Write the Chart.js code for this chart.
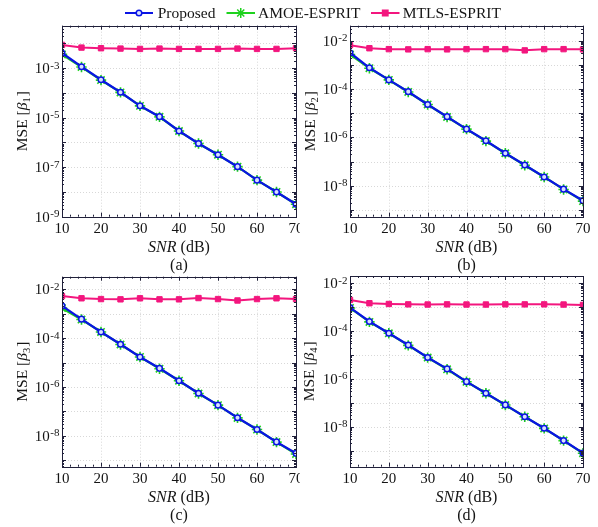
<!DOCTYPE html>
<html lang="en">

<head>
    <meta charset="UTF-8">
    <title>MSE versus SNR</title>
    <script src="https://cdn.jsdelivr.net/npm/chart.js"></script>
    <style>
        body { margin: 0; background: #fff; }
        #wrap { position: relative; width: 598px; height: 527px; }
        #wrap canvas { position: absolute; left: 0; top: 0; }
    </style>
</head>

<body>

<div id="wrap">
    <canvas id="chartA" width="598" height="527"></canvas>
    <canvas id="chartB" width="598" height="527"></canvas>
    <canvas id="chartC" width="598" height="527"></canvas>
    <canvas id="chartD" width="598" height="527"></canvas>
</div>

<script>
    // SNR points (dB) and x tick labels
    const snr = [10, 15, 20, 25, 30, 35, 40, 45, 50, 55, 60, 65, 70];
    const xTicks = [10, 20, 30, 40, 50, 60, 70];

    // (a) beta 1
    const proposedA = [4.1e-3, 1.15e-3, 3.4e-4, 1.07e-4, 3.0e-5, 1.1e-5, 2.9e-6, 9.1e-7, 3.2e-7, 1.05e-7, 3.0e-8, 1.0e-8, 3.2e-9];
    const amoeA = [3.6e-3, 1.12e-3, 3.3e-4, 1.05e-4, 3.0e-5, 1.08e-5, 2.9e-6, 9.0e-7, 3.2e-7, 1.05e-7, 3.0e-8, 1.0e-8, 3.2e-9];
    const mtlsA = [8.7e-3, 6.8e-3, 6.4e-3, 6.2e-3, 6.0e-3, 6.2e-3, 6.0e-3, 6.0e-3, 6.0e-3, 6.2e-3, 6.0e-3, 6.0e-3, 6.4e-3];

    // (b) beta 2
    const proposedB = [3.2e-3, 7.6e-4, 2.4e-4, 7.8e-5, 2.3e-5, 7.2e-6, 2.2e-6, 7.2e-7, 2.2e-7, 7.2e-8, 2.3e-8, 7.2e-9, 2.4e-9];
    const amoeB = [2.7e-3, 7.3e-4, 2.4e-4, 7.6e-5, 2.3e-5, 7.0e-6, 2.2e-6, 7.0e-7, 2.2e-7, 7.0e-8, 2.3e-8, 7.0e-9, 2.3e-9];
    const mtlsB = [6.6e-3, 4.9e-3, 4.5e-3, 4.4e-3, 4.5e-3, 4.4e-3, 4.5e-3, 4.5e-3, 4.5e-3, 4.0e-3, 4.5e-3, 4.5e-3, 4.4e-3];

    // (c) beta 3
    const proposedC = [2.1e-3, 6.0e-4, 1.8e-4, 5.6e-5, 1.7e-5, 5.8e-6, 1.8e-6, 5.5e-7, 1.8e-7, 5.5e-8, 1.8e-8, 5.6e-9, 1.9e-9];
    const amoeC = [1.7e-3, 5.8e-4, 1.8e-4, 5.5e-5, 1.7e-5, 5.6e-6, 1.8e-6, 5.4e-7, 1.8e-7, 5.4e-8, 1.8e-8, 5.5e-9, 1.8e-9];
    const mtlsC = [5.3e-3, 4.3e-3, 4.0e-3, 3.9e-3, 4.3e-3, 3.9e-3, 3.9e-3, 4.4e-3, 4.0e-3, 3.5e-3, 4.0e-3, 4.3e-3, 4.0e-3];

    // (d) beta 4
    const proposedD = [9.5e-4, 2.5e-4, 8.1e-5, 2.6e-5, 7.8e-6, 2.6e-6, 7.6e-7, 2.5e-7, 8.1e-8, 2.6e-8, 8.5e-9, 2.6e-9, 7.8e-10];
    const amoeD = [9.2e-4, 2.4e-4, 8.0e-5, 2.5e-5, 7.7e-6, 2.5e-6, 7.5e-7, 2.5e-7, 8.0e-8, 2.6e-8, 8.4e-9, 2.6e-9, 7.7e-10];
    const mtlsD = [2.0e-3, 1.45e-3, 1.35e-3, 1.3e-3, 1.28e-3, 1.3e-3, 1.28e-3, 1.28e-3, 1.3e-3, 1.3e-3, 1.3e-3, 1.28e-3, 1.23e-3];

    // labelled y ticks, as powers of ten
    const yTicksA = [-9, -7, -5, -3];
    const yTicksB = [-8, -6, -4, -2];
    const yTicksC = [-8, -6, -4, -2];
    const yTicksD = [-8, -6, -4, -2];

    const seriesNames = ['Proposed', 'AMOE-ESPRIT', 'MTLS-ESPRIT'];

    const serif = '"Liberation Serif", "Times New Roman", serif';
    const ink = '#141414';
    const BLUE = '#0a14e4', GREEN = '#1ed21e', PINK = '#f3167e';

    // panel layout: chart area box [left, top, right, bottom] in page pixels
    const panels = [
        { id: 'chartA', box: [62, 25.7, 296, 216.7], yMin: 1e-9, yMax: 0.052, ticks: yTicksA, sub: '1', caption: '(a)', titleX: 26.7, clip: [0, 300], legend: true,
          data: [proposedA, amoeA, mtlsA] },
        { id: 'chartB', box: [350, 25.7, 583, 216.7], yMin: 5.2e-10, yMax: 0.042, ticks: yTicksB, sub: '2', caption: '(b)', titleX: 315, clip: [300, 598],
          data: [proposedB, amoeB, mtlsB] },
        { id: 'chartC', box: [62, 276.7, 296, 466.7], yMin: 5.4e-10, yMax: 0.033, ticks: yTicksC, sub: '3', caption: '(c)', titleX: 27.3, clip: [0, 300],
          data: [proposedC, amoeC, mtlsC] },
        { id: 'chartD', box: [350, 276, 583, 466.7], yMin: 2.1e-10, yMax: 0.020, ticks: yTicksD, sub: '4', caption: '(d)', titleX: 314.3, clip: [300, 598],
          data: [proposedD, amoeD, mtlsD] }
    ];

    function seg(ctx, x1, y1, x2, y2) {
        ctx.beginPath();
        ctx.moveTo(x1, y1);
        ctx.lineTo(x2, y2);
        ctx.stroke();
    }

    // grid, box, ticks and all the texts (Matlab look)
    const matlabFrame = {
        id: 'matlabFrame',
        beforeDatasetsDraw(chart, args, p) {
            const { ctx, chartArea: a, scales: { x, y } } = chart;
            ctx.save();
            ctx.strokeStyle = '#d8d8d8';
            ctx.lineWidth = 1;
            ctx.setLineDash([1, 2]);
            xTicks.forEach(v => {
                const px = Math.round(x.getPixelForValue(v)) + 0.5;
                seg(ctx, px, a.top, px, a.bottom);
            });
            for (let e = Math.ceil(Math.log10(p.yMin)); e <= Math.floor(Math.log10(p.yMax)); e++) {
                const py = Math.round(y.getPixelForValue(Math.pow(10, e))) + 0.5;
                seg(ctx, a.left, py, a.right, py);
            }
            ctx.restore();
        },
        afterDraw(chart, args, p) {
            const { ctx, chartArea: a, scales: { x, y } } = chart;
            ctx.save();

            // box and inward ticks
            ctx.strokeStyle = '#20203a';
            ctx.lineWidth = 1;
            for (let v = 10; v <= 70; v += 2) {
                const px = Math.round(x.getPixelForValue(v)) + 0.5;
                const len = v % 10 === 0 ? 4 : 2;
                seg(ctx, px, a.bottom, px, a.bottom - len);
                seg(ctx, px, a.top, px, a.top + len);
            }
            for (let e = Math.floor(Math.log10(p.yMin)); e <= Math.ceil(Math.log10(p.yMax)); e++) {
                for (let k = 1; k < 10; k++) {
                    const v = k * Math.pow(10, e);
                    if (v < p.yMin || v > p.yMax) continue;
                    const py = Math.round(y.getPixelForValue(v)) + 0.5;
                    const len = k === 1 ? 4 : 2;
                    seg(ctx, a.left, py, a.left + len, py);
                    seg(ctx, a.right, py, a.right - len, py);
                }
            }
            ctx.strokeRect(Math.round(a.left) + 0.5, Math.round(a.top) + 0.5,
                Math.round(a.right - a.left), Math.round(a.bottom - a.top));

            // texts are clipped to the sub-figure
            ctx.beginPath();
            ctx.rect(p.clip[0], 0, p.clip[1] - p.clip[0], 527);
            ctx.clip();
            ctx.fillStyle = ink;

            // x tick labels
            ctx.font = '15px ' + serif;
            ctx.textAlign = 'center';
            ctx.textBaseline = 'alphabetic';
            xTicks.forEach(v => ctx.fillText(String(v), x.getPixelForValue(v), a.bottom + 16.5));

            // y tick labels 10^e
            ctx.textAlign = 'left';
            p.ticks.forEach(e => {
                const py = y.getPixelForValue(Math.pow(10, e));
                const ex = '-' + Math.abs(e);
                ctx.font = '11px ' + serif;
                const wExp = ctx.measureText(ex).width;
                ctx.font = '15px ' + serif;
                const wBase = ctx.measureText('10').width;
                const x0 = a.left - 3 - wExp - wBase;
                ctx.fillText('10', x0, py + 5);
                ctx.font = '11px ' + serif;
                ctx.fillText(ex, x0 + wBase + 0.5, py + 0.5);
            });

            // x title: SNR (dB)
            const cx = (a.left + a.right) / 2;
            ctx.font = 'italic 16px ' + serif;
            const wSnr = ctx.measureText('SNR').width;
            ctx.font = '16px ' + serif;
            const wDb = ctx.measureText(' (dB)').width;
            let tx = cx - (wSnr + wDb) / 2;
            ctx.font = 'italic 16px ' + serif;
            ctx.fillText('SNR', tx, a.bottom + 35);
            ctx.font = '16px ' + serif;
            ctx.fillText(' (dB)', tx + wSnr, a.bottom + 35);

            // caption
            ctx.textAlign = 'center';
            ctx.fillText(p.caption, cx, a.bottom + 52.8);

            // y title: MSE [beta_k]
            const parts = [
                { t: 'MSE [', f: '15.5px ' + serif, dy: 0 },
                { t: '\u03b2', f: 'italic 15.5px ' + serif, dy: 0 },
                { t: p.sub, f: '10.5px ' + serif, dy: 3 },
                { t: ']', f: '15.5px ' + serif, dy: 0 }
            ];
            let total = 0;
            parts.forEach(s => { ctx.font = s.f; s.w = ctx.measureText(s.t).width; total += s.w + (s.t === p.sub ? 1 : 0); });
            ctx.translate(p.titleX, (a.top + a.bottom) / 2);
            ctx.rotate(-Math.PI / 2);
            ctx.textAlign = 'left';
            let ox = -total / 2;
            parts.forEach(s => {
                ctx.font = s.f;
                ctx.fillText(s.t, ox, s.dy);
                ox += s.w + (s.t === p.sub ? 1 : 0);
            });
            ctx.restore();

            if (p.legend) drawLegend(ctx);
        }
    };

    // shared legend across the top of the figure
    function drawLegend(ctx) {
        const items = [
            { name: seriesNames[0], color: BLUE, x1: 125, x2: 153, style: 'circle', r: 2.8, fill: '#d6e0ff', text: 157.7 },
            { name: seriesNames[1], color: GREEN, x1: 226.5, x2: 255, style: 'star', r: 5, fill: GREEN, text: 258 },
            { name: seriesNames[2], color: PINK, x1: 371, x2: 399.5, style: 'rect', r: 3.8, fill: PINK, text: 402.7 }
        ];
        ctx.save();
        items.forEach(it => {
            const ly = 13;
            ctx.strokeStyle = it.color;
            ctx.lineWidth = 2;
            seg(ctx, it.x1, ly, it.x2, ly);
            ctx.fillStyle = it.fill;
            ctx.lineWidth = 1.5;
            Chart.helpers.drawPoint(ctx, { pointStyle: it.style, radius: it.r, rotation: 0, borderWidth: 1.5 }, (it.x1 + it.x2) / 2, ly);
            ctx.fillStyle = ink;
            ctx.font = '15.5px ' + serif;
            ctx.textAlign = 'left';
            ctx.textBaseline = 'alphabetic';
            ctx.fillText(it.name, it.text, 17.5);
        });
        ctx.restore();
    }

    function points(arr) {
        return snr.map((s, i) => ({ x: s, y: arr[i] }));
    }

    panels.forEach(p => {
        const [L, T, R, B] = p.box;
        new Chart(document.getElementById(p.id), {
            type: 'line',
            data: {
                datasets: [{
                    label: seriesNames[0],
                    data: points(p.data[0]),
                    borderColor: BLUE,
                    borderWidth: 2.3,
                    pointStyle: 'circle',
                    pointRadius: 2.8,
                    pointBorderWidth: 1.5,
                    pointBorderColor: BLUE,
                    pointBackgroundColor: '#d6e0ff'
                }, {
                    label: seriesNames[1],
                    data: points(p.data[1]),
                    borderColor: GREEN,
                    borderWidth: 2.2,
                    pointStyle: 'star',
                    pointRadius: 5.2,
                    pointBorderWidth: 1.6,
                    pointBorderColor: GREEN,
                    pointBackgroundColor: GREEN
                }, {
                    label: seriesNames[2],
                    data: points(p.data[2]),
                    borderColor: PINK,
                    borderWidth: 2,
                    pointStyle: 'rect',
                    pointRadius: 3.8,
                    pointBorderWidth: 1,
                    pointBorderColor: PINK,
                    pointBackgroundColor: PINK
                }]
            },
            options: {
                responsive: false,
                animation: false,
                devicePixelRatio: 1,
                layout: { padding: { left: L, top: T, right: 598 - R, bottom: 527 - B } },
                scales: {
                    x: { type: 'linear', min: 10, max: 70, display: false },
                    y: { type: 'logarithmic', min: p.yMin, max: p.yMax, display: false }
                },
                elements: { line: { tension: 0 } },
                plugins: {
                    legend: { display: false },
                    tooltip: { enabled: false },
                    matlabFrame: p
                }
            },
            plugins: [matlabFrame]
        });
    });
</script>

</body>

</html>
